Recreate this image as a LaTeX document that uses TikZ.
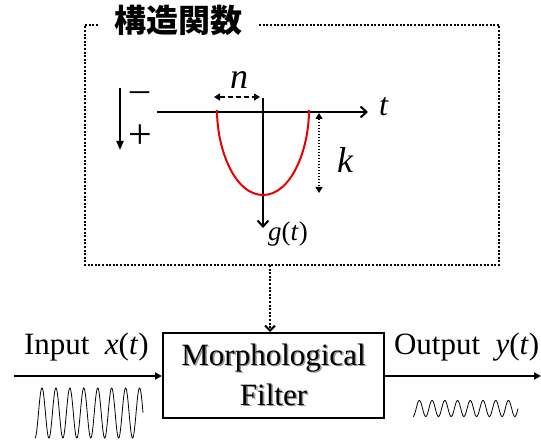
\documentclass[tikz,border=0pt]{standalone}
\usepackage{fontspec}
\setmainfont{Liberation Serif}
\newfontfamily\cjkfont{Noto Sans CJK JP}
\usepackage{tikz}
\usetikzlibrary{arrows.meta}
\definecolor{curvared}{RGB}{235, 0, 0}
\definecolor{sombra}{RGB}{150, 150, 150}
\newcommand{\tamano}[1]{\fontsize{#1}{#1}\selectfont}
\newcommand{\sombreado}[1]{\leavevmode\rlap{\raisebox{-1.6pt}{\hspace{1.6pt}\textcolor{sombra}{#1}}}#1}

\begin{document}
\begin{tikzpicture}[x=1pt, y=-1pt, line width=2pt,
    marco/.style={dash pattern=on 2pt off 1.6pt},
    eje/.style={-{Straight Barb[length=6pt,width=11pt]}},
    flecha/.style={-{Triangle[length=7pt,width=7pt]}},
    cota/.style={line width=1.4pt, {Triangle[length=6pt,width=7pt]}-{Triangle[length=6pt,width=7pt]}},
    onda/.style={line width=0.8pt, samples=300, smooth}]
  \useasboundingbox (0,0) rectangle (541,443);
  % Marco del elemento estructurante
  \node[font=\cjkfont\bfseries\tamano{32}, inner xsep=15pt] (titulo) at (178,20) {構造関数};
  \coordinate (marcoNO) at (85,25);
  \coordinate (marcoSE) at (499,265);
  \coordinate (marcoSal) at (270,265);
  \draw[marco] (titulo.west |- marcoNO) -- (marcoNO) |- (marcoSE) |- (titulo.east |- marcoNO);
  % Ejes y signo
  \coordinate (signoIni) at (120,88);
  \coordinate (signoFin) at (120,150);
  \draw[-{Triangle[length=9pt,width=7pt]}] (signoIni) -- (signoFin);
  \node[font=\tamano{38}, anchor=base] (menos) at (140,102) {–};
  \node[font=\tamano{42}] (mas) at (140,137) {+};
  \coordinate (ejeTini) at (157,112);
  \coordinate (ejeTfin) at (368,112);
  \draw[eje] (ejeTini) -- (ejeTfin);
  \node[font=\tamano{32}\itshape, anchor=west, inner sep=2pt] (etiqT) at ([xshift=8pt,yshift=5pt]ejeTfin) {t};
  \coordinate (ejeGini) at (263,98);
  \coordinate (ejeGfin) at (263,228);
  \draw[eje] (ejeGini) -- (ejeGfin);
  \node[font=\tamano{27}] (etiqG) at (288,234) {\textit{g}(\textit{t})};
  % Curva g(t)
  \draw[curvared] (217,110) .. controls (217,150) and (235,195) .. (263,195)
    .. controls (291,195) and (309,150) .. (309,110);
  % Cotas n y k
  \coordinate (nIzq) at (214,97);
  \coordinate (nDer) at (260,97);
  \draw[cota, dash pattern=on 5pt off 3pt] (nIzq) -- (nDer);
  \node[font=\tamano{36}\itshape] (etiqN) at (239,80) {n};
  \coordinate (kArr) at (319,113);
  \coordinate (kAba) at (319,193);
  \draw[cota, dash pattern=on 1.5pt off 1.5pt] (kArr) -- (kAba);
  \node[font=\tamano{36}\itshape] (etiqK) at (345,160) {k};
  % Filtro morfologico
  \node[draw, minimum width=221pt, minimum height=85pt, font=\fontsize{31}{40}\selectfont, align=center] (filtro) at (273.5,375.5) {\sombreado{Morphological}\\\sombreado{Filter}};
  \draw[marco, -{Straight Barb[length=5pt,width=10pt]}] (marcoSal) -- (filtro.north -| marcoSal);
  \coordinate (entrada) at (14,376);
  \coordinate (salida) at (541,376);
  \draw[flecha] (entrada) -- (filtro.west |- entrada);
  \draw[flecha] (filtro.east |- salida) -- (salida);
  \node[font=\tamano{31}, anchor=base west, inner sep=0pt] (etiqEnt) at (23,355) {Input\ \ \textit{x}(\textit{t})};
  \node[font=\tamano{31}, anchor=base west, inner sep=0pt] (etiqSal) at (393,355) {Output\ \ \textit{y}(\textit{t})};
  % Senales
  \draw[onda] plot[domain=35:143] (\x, {413+25*cos((\x-35)/13.94*360)});
  \draw[onda] plot[domain=413:518] (\x, {408.5+8*cos((\x-413)/12.73*360)});
\end{tikzpicture}
\end{document}
